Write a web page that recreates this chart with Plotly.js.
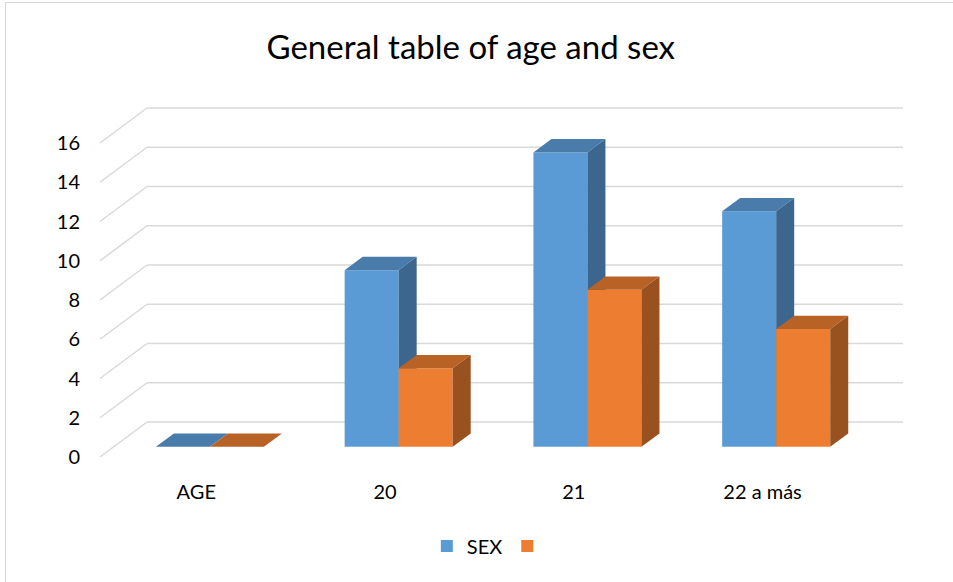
<!DOCTYPE html>
<html>
<head>
<meta charset="utf-8">
<script src="https://cdn.plot.ly/plotly-3.0.1.min.js"></script>
<style>
  html, body { margin: 0; padding: 0; background: #fff; }
  #wrap { position: relative; width: 953px; height: 582px; }
  #chart { width: 953px; height: 582px; }
  #frame { position: absolute; left: 5px; top: 2px; width: 960px; height: 600px;
           border-left: 1.5px solid #D9D9D9; border-top: 1.5px solid #D9D9D9;
           pointer-events: none; box-sizing: border-box; }
</style>
</head>
<body>
<div id="wrap">
  <div id="chart"></div>
  <div id="frame"></div>
</div>
<script>
// ---- data ----
const categories = ['AGE', '20', '21', '22 a más'];
const sexValues = [0, 9, 15, 12];
const secondValues = [0, 4, 8, 6];
const seriesNames = ['SEX', ''];
const yTickValues = [0, 2, 4, 6, 8, 10, 12, 14, 16];

// ---- styling / oblique projection (in axis units) ----
const frontColors = ['#5B9BD5', '#ED7D31'];
const topColors = ['#497CAA', '#B96226'];
const sideColors = ['#3C668D', '#9A5120'];
const wallDX = 0.2491;   // depth of the walls, x units
const wallDY = 1.783;    // depth of the walls, value units
const barW0 = 0.29;      // depth fraction of bar front
const barDepth = 0.383;  // depth fraction of bar thickness
const barWidth = 0.2862;
const xFrontLeft = -0.51, xFrontRight = 3.495;

const fx = barW0 * wallDX, fy = barW0 * wallDY;
const ddx = barDepth * wallDX, ddy = barDepth * wallDY;
const xIdx = categories.map((c, i) => i);

const traces = [];
const seriesList = [sexValues, secondValues];
seriesList.forEach((vals, s) => {
  const off = fx + (s === 0 ? -barWidth : 0);
  traces.push({
    type: 'bar', x: xIdx, y: vals, base: vals.map(() => fy),
    offset: off, width: barWidth, name: seriesNames[s],
    marker: { color: frontColors[s], line: { width: 0 } },
    zorder: 2 * s + 1, hoverinfo: 'skip', showlegend: true
  });
  vals.forEach((v, i) => {
    const x0 = i + off, x1 = x0 + barWidth;
    const yTop = fy + v;
    // top face
    traces.push({
      type: 'scatter', mode: 'lines', fill: 'toself',
      x: [x0, x1, x1 + ddx, x0 + ddx, x0],
      y: [yTop, yTop, yTop + ddy, yTop + ddy, yTop],
      fillcolor: topColors[s], line: { width: 0, color: topColors[s] },
      zorder: 2 * s + 2, hoverinfo: 'skip', showlegend: false
    });
    // side face
    if (v > 0) {
      traces.push({
        type: 'scatter', mode: 'lines', fill: 'toself',
        x: [x1, x1 + ddx, x1 + ddx, x1, x1],
        y: [fy, fy + ddy, yTop + ddy, yTop, fy],
        fillcolor: sideColors[s], line: { width: 0, color: sideColors[s] },
        zorder: 2 * s + 2, hoverinfo: 'skip', showlegend: false
      });
    }
  });
});

// gridlines: back wall + side wall
const shapes = [];
yTickValues.forEach(v => {
  shapes.push({ type: 'line', xref: 'x', yref: 'y', layer: 'below',
    x0: xFrontLeft + wallDX, y0: v + wallDY, x1: xFrontRight + wallDX, y1: v + wallDY,
    line: { color: '#D9D9D9', width: 1.5 } });
  shapes.push({ type: 'line', xref: 'x', yref: 'y', layer: 'below',
    x0: xFrontLeft, y0: v, x1: xFrontLeft + wallDX, y1: v + wallDY,
    line: { color: '#D9D9D9', width: 1.5 } });
});

const font = 'Lato, "Open Sans", sans-serif';
const layout = {
  width: 953, height: 582,
  margin: { l: 95, r: 45, t: 103, b: 120 },
  paper_bgcolor: '#ffffff', plot_bgcolor: 'rgba(0,0,0,0)',
  font: { family: font, color: '#000000', size: 20 },
  title: { text: 'General table of age and sex', font: { family: font, size: 33, color: '#000000' },
           xref: 'container', yref: 'container', x: 0.494, xanchor: 'center', y: 0.918, yanchor: 'middle' },
  barmode: 'overlay',
  xaxis: { range: [-0.5365, 3.7705], tickvals: xIdx, ticktext: categories,
           showgrid: false, zeroline: false, showline: false, ticks: '',
           ticklabelstandoff: 16, tickfont: { family: font, size: 20, color: '#000' }, fixedrange: true },
  yaxis: { range: [-0.2547, 18.038], tickvals: yTickValues, ticktext: yTickValues.map(String),
           showgrid: false, zeroline: false, showline: false, ticks: '',
           ticklabelstandoff: 14, tickfont: { family: font, size: 20, color: '#000' }, fixedrange: true },
  shapes: shapes,
  showlegend: true,
  legend: { orientation: 'h', xref: 'container', yref: 'container', x: 0.514, xanchor: 'center',
            y: 1 - 546 / 582, yanchor: 'middle', font: { family: font, size: 20, color: '#000' },
            bgcolor: 'rgba(0,0,0,0)' }
};

Plotly.newPlot('chart', traces, layout, { displayModeBar: false, staticPlot: true });
</script>
</body>
</html>
